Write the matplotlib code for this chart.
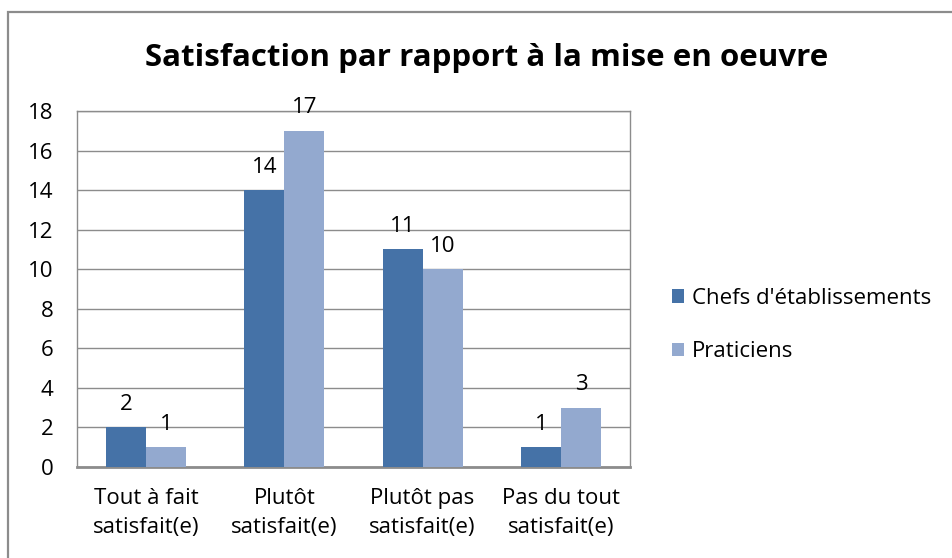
import matplotlib
matplotlib.use("Agg")
import matplotlib.pyplot as plt
import numpy as np
from matplotlib.patches import Rectangle

categories = ["Tout à fait\nsatisfait(e)", "Plutôt\nsatisfait(e)", "Plutôt pas\nsatisfait(e)", "Pas du tout\nsatisfait(e)"]
series_names = ["Chefs d'établissements", "Praticiens"]
chefs = [2, 14, 11, 1]
praticiens = [1, 17, 10, 3]
yticks = [0, 2, 4, 6, 8, 10, 12, 14, 16, 18]

colors = ["#4572A7", "#93A9CF"]
plt.rcParams['font.family'] = ['Open Sans', 'DejaVu Sans']
FS = 16

W, H = 953, 558
fig = plt.figure(figsize=(W / 100, H / 100), dpi=100)
fig.patch.set_facecolor("white")

# outer chart frame
fig.patches.append(Rectangle((8 / W, -0.05), 1.1, 1 - 12 / H + 0.05, transform=fig.transFigure,
                             fill=False, edgecolor="#8c8c8c", linewidth=1.6, zorder=0))

ax = fig.add_axes([77 / W, 1 - 467 / H, (630 - 77) / W, (467 - 111) / H])
x = np.arange(len(categories))
bw = 0.29
b1 = ax.bar(x - bw / 2, chefs, bw, color=colors[0], label=series_names[0], zorder=3)
b2 = ax.bar(x + bw / 2, praticiens, bw, color=colors[1], label=series_names[1], zorder=3)
for bars, vals in ((b1, chefs), (b2, praticiens)):
    for r, v in zip(bars, vals):
        ax.annotate(str(v), (r.get_x() + r.get_width() / 2, r.get_height()),
                    xytext=(0, 9), textcoords="offset points", ha="center", va="bottom",
                    fontsize=FS, color="black")

ax.set_xlim(-0.5, len(categories) - 0.5)
ax.set_ylim(0, 18)
ax.set_yticks(yticks)
ax.set_yticklabels([str(t) for t in yticks], fontsize=FS)
ax.set_xticks(x)
ax.set_xticklabels(categories, fontsize=FS, linespacing=1.5)
ax.tick_params(axis="x", length=0, pad=15)
ax.tick_params(axis="y", length=0, pad=17)
ax.yaxis.grid(True, color="#8c8c8c", linewidth=1.0, zorder=0)
for s in ["left", "right", "top"]:
    ax.spines[s].set_color("#8c8c8c")
    ax.spines[s].set_linewidth(1.0)
ax.spines["bottom"].set_color("#8c8c8c")
ax.spines["bottom"].set_linewidth(2.0)

fig.text((148 + 826) / 2 / W, 1 - 58 / H, "Satisfaction par rapport à la mise en oeuvre",
         ha="center", va="center", fontsize=22.5, fontweight="bold", color="black")

leg = ax.legend(loc="center left", bbox_to_anchor=(652 / W, 1 - 325 / H), bbox_transform=fig.transFigure,
                frameon=False, fontsize=FS, handlelength=0.55, handleheight=0.55, handletextpad=0.35,
                labelspacing=1.45)

fig.savefig("out.png", dpi=100)
